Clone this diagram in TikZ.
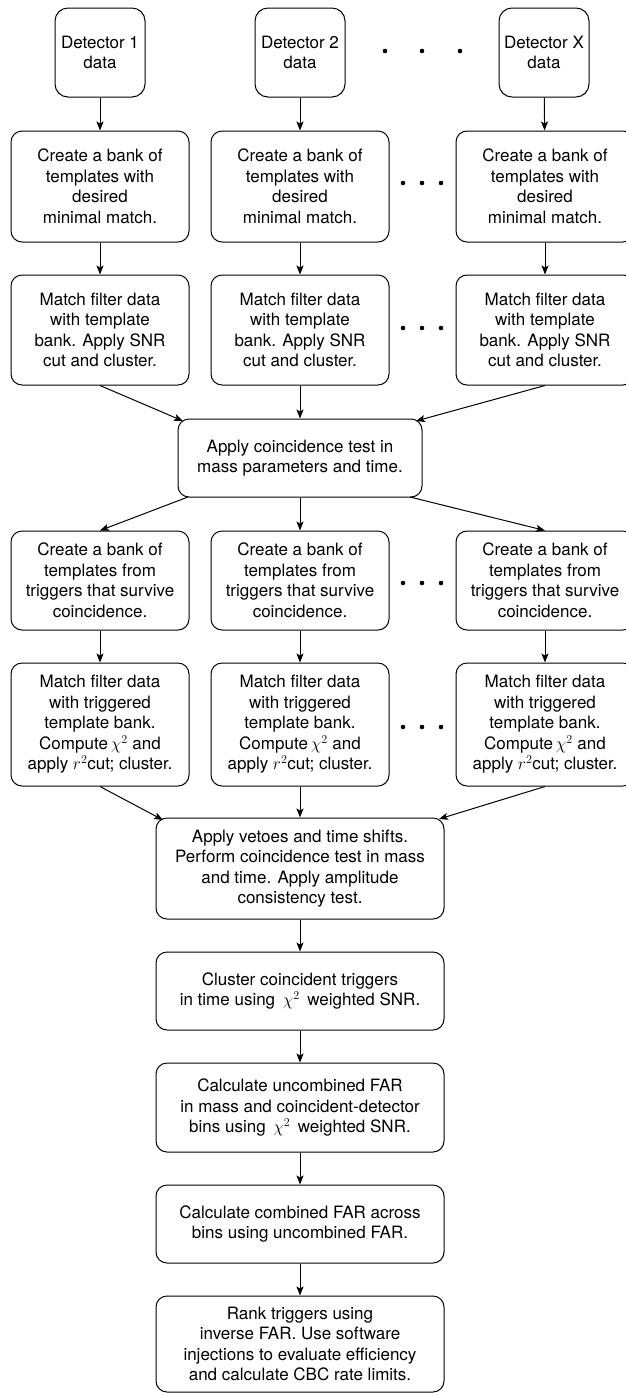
\documentclass[tikz,border=0pt]{standalone}
\usepackage{fontspec}
\setmainfont{TeX Gyre Heros}
\usetikzlibrary{arrows.meta}
\DeclareMathSizes{17}{18}{13}{10}
\begin{document}
\begin{tikzpicture}[x=1pt,y=-1pt,
  box/.style={draw, line width=1pt, rounded corners=11pt, align=center, inner sep=0pt,
    font=\fontsize{17}{20.5}\selectfont},
  colbox/.style={box, minimum width=178pt},
  midbox/.style={box, minimum width=288pt},
  detbox/.style={box, minimum width=90pt, minimum height=89pt, rounded corners=13pt},
  arr/.style={line width=1pt, -{Stealth[length=9pt,width=7pt,inset=2pt]}},
  dot/.style={circle, fill, inner sep=0pt, minimum size=4.6pt}]
\clip (0,0) rectangle (626,1393);
\useasboundingbox (0,0) rectangle (626,1393);

% detectors
\node[detbox] (det1) at (100,52.5) {Detector 1\\data};
\node[detbox] (det2) at (300,52.5) {Detector 2\\data};
\node[detbox] (det3) at (544,52.5) {Detector X\\data};
\node[dot] (da1) at (385,51) {};
\node[dot] (da2) at (422,51) {};
\node[dot] (da3) at (460,51) {};

% row 2
\node[colbox, minimum height=111pt] (b1) at (100,186.5) {Create a bank of\\templates with\\desired\\minimal match.};
\node[colbox, minimum height=111pt] (b2) at (300,186.5) {Create a bank of\\templates with\\desired\\minimal match.};
\node[colbox, minimum height=111pt] (b3) at (545,186.5) {Create a bank of\\templates with\\desired\\minimal match.};
\node[dot] (db1) at (403,183) {};
\node[dot] (db2) at (422,183) {};
\node[dot] (db3) at (441,183) {};

% row 3
\node[colbox, minimum height=110pt] (m1) at (100,330) {Match filter data\\with template\\bank. Apply SNR\\cut and cluster.};
\node[colbox, minimum height=110pt] (m2) at (300,330) {Match filter data\\with template\\bank. Apply SNR\\cut and cluster.};
\node[colbox, minimum height=110pt] (m3) at (545,330) {Match filter data\\with template\\bank. Apply SNR\\cut and cluster.};
\node[dot] (dc1) at (403,328) {};
\node[dot] (dc2) at (422,328) {};
\node[dot] (dc3) at (441,328) {};

% coincidence
\node[box, minimum width=244pt, minimum height=78pt] (coinc) at (300,458) {Apply coincidence test in\\mass parameters and time.};
\coordinate (cin1) at (183,421);
\coordinate (cin3) at (416,421);
\coordinate (cout1) at (188,497);
\coordinate (cout3) at (410,497);

% row 4
\node[colbox, minimum height=99pt] (t1) at (100,580.5) {Create a bank of\\templates from\\triggers that survive\\coincidence.};
\node[colbox, minimum height=99pt] (t2) at (300,580.5) {Create a bank of\\templates from\\triggers that survive\\coincidence.};
\node[colbox, minimum height=99pt] (t3) at (545,580.5) {Create a bank of\\templates from\\triggers that survive\\coincidence.};
\node[dot] (dd1) at (403,583) {};
\node[dot] (dd2) at (422,583) {};
\node[dot] (dd3) at (441,583) {};

% row 5
\node[colbox, minimum height=123pt] (f1) at (100,724.5) {Match filter data\\with triggered\\template bank.\\Compute\,$\chi^2$ and\\apply $r^2$cut; cluster.};
\node[colbox, minimum height=123pt] (f2) at (300,724.5) {Match filter data\\with triggered\\template bank.\\Compute\,$\chi^2$ and\\apply $r^2$cut; cluster.};
\node[colbox, minimum height=123pt] (f3) at (545,724.5) {Match filter data\\with triggered\\template bank.\\Compute\,$\chi^2$ and\\apply $r^2$cut; cluster.};
\node[dot] (de1) at (403,727) {};
\node[dot] (de2) at (422,727) {};
\node[dot] (de3) at (441,727) {};

% lower chain
\node[midbox, minimum height=101pt] (veto) at (300,868.5) {Apply vetoes and time shifts.\\Perform coincidence test in mass\\and time. Apply amplitude\\consistency test.};
\coordinate (vin1) at (163,820);
\coordinate (vin3) at (439,819);
\node[midbox, minimum height=78pt] (clus) at (300,991) {Cluster coincident triggers\\in time using \,$\chi^2$\, weighted SNR.};
\node[midbox, minimum height=89pt] (unc) at (300,1107.5) {Calculate uncombined FAR\\in mass and coincident-detector\\bins using \,$\chi^2$\, weighted SNR.};
\node[midbox, minimum height=78pt] (comb) at (300,1224) {Calculate combined FAR across\\bins using uncombined FAR.};
\node[midbox, minimum height=96pt] (rank) at (300,1344) {Rank triggers using\\inverse FAR. Use software\\injections to evaluate efficiency\\and calculate CBC rate limits.};

% connectors
\foreach \i in {1,2,3} {
  \draw[arr] (det\i) -- (b\i);
  \draw[arr] (b\i) -- (m\i);
  \draw[arr] (t\i) -- (f\i);
}
\draw[arr] (m1.south) -- (cin1);
\draw[arr] (m2.south) -- (coinc.north);
\draw[arr] (m3.south) -- (cin3);
\draw[arr] (cout1) -- (t1.north);
\draw[arr] (coinc.south) -- (t2.north);
\draw[arr] (cout3) -- (t3.north);
\draw[arr] (f1.south) -- (vin1);
\draw[arr] (f2.south) -- (veto.north);
\draw[arr] (f3.south) -- (vin3);
\draw[arr] (veto) -- (clus);
\draw[arr] (clus) -- (unc);
\draw[arr] (unc) -- (comb);
\draw[arr] (comb) -- (rank);
\end{tikzpicture}
\end{document}
